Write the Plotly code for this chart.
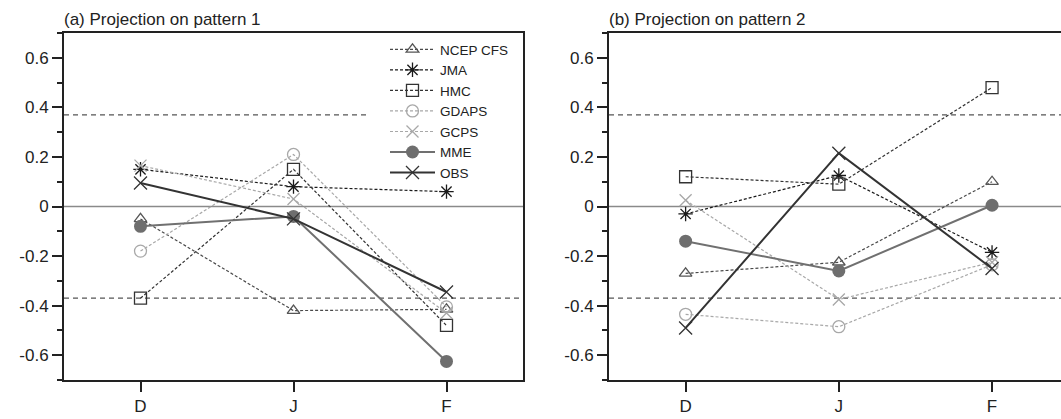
import plotly.graph_objects as go

months = ["D", "J", "F"]
series_names = ["NCEP CFS", "JMA", "HMC", "GDAPS", "GCPS", "MME", "OBS"]

# Panel (a): projection on pattern 1
p1_ncep = [-0.05, -0.42, -0.415]
p1_jma = [0.15, 0.08, 0.06]
p1_hmc = [-0.37, 0.15, -0.48]
p1_gdaps = [-0.18, 0.21, -0.405]
p1_gcps = [0.165, 0.03, -0.43]
p1_mme = [-0.08, -0.04, -0.625]
p1_obs = [0.095, -0.05, -0.345]

# Panel (b): projection on pattern 2
p2_ncep = [-0.27, -0.225, 0.10]
p2_jma = [-0.03, 0.125, -0.185]
p2_hmc = [0.12, 0.09, 0.48]
p2_gdaps = [-0.435, -0.485, -0.235]
p2_gcps = [0.025, -0.375, -0.225]
p2_mme = [-0.14, -0.26, 0.005]
p2_obs = [-0.49, 0.215, -0.25]

sig_level = 0.37
y_ticks = [-0.6, -0.4, -0.2, 0, 0.2, 0.4, 0.6]
y_tick_text = ["-0.6", "-0.4", "-0.2", "0", "0.2", "0.4", "0.6"]

panel_a = [p1_ncep, p1_jma, p1_hmc, p1_gdaps, p1_gcps, p1_mme, p1_obs]
panel_b = [p2_ncep, p2_jma, p2_hmc, p2_gdaps, p2_gcps, p2_mme, p2_obs]

styles = [
    dict(color="#4a4a4a", dash="3px,2px", width=1.2, symbol="triangle-up-open", size=11, mcolor="#555555", fill=None),
    dict(color="#1a1a1a", dash="3px,2px", width=1.2, symbol="asterisk-open", size=12, mcolor="#1a1a1a", fill=None),
    dict(color="#333333", dash="3px,2px", width=1.2, symbol="square-open", size=12, mcolor="#333333", fill=None),
    dict(color="#a8a8a8", dash="3px,2px", width=1.2, symbol="circle-open", size=12, mcolor="#a8a8a8", fill=None),
    dict(color="#a8a8a8", dash="3px,2px", width=1.2, symbol="x-thin-open", size=12, mcolor="#a8a8a8", fill=None),
    dict(color="#707070", dash="solid", width=2, symbol="circle", size=13, mcolor="#6e6e6e", fill="#6e6e6e"),
    dict(color="#333333", dash="solid", width=2, symbol="x-thin-open", size=13, mcolor="#333333", fill=None),
]

W, H = 1061, 419
fig = go.Figure()

for panel_idx, (data, xa, ya) in enumerate([(panel_a, "x", "y"), (panel_b, "x2", "y2")]):
    for name, vals, st in zip(series_names, data, styles):
        marker = dict(symbol=st["symbol"], size=st["size"],
                      line=dict(color=st["mcolor"], width=1.3))
        if st["fill"]:
            marker["color"] = st["fill"]
            marker["line"] = dict(color=st["fill"], width=0)
        else:
            marker["color"] = st["mcolor"]
        fig.add_trace(go.Scatter(
            x=months, y=vals, name=name, mode="lines+markers",
            line=dict(color=st["color"], dash=st["dash"], width=st["width"]),
            marker=marker, xaxis=xa, yaxis=ya,
            showlegend=(panel_idx == 0), cliponaxis=False,
        ))

# panel geometry (pixels)
a_left, a_right = 64, 523
b_left = 609
plot_top, plot_bottom = 33, 380
legend_left = 367

# reference lines
for xr, yr in [("x", "y"), ("x2", "y2")]:
    fig.add_shape(type="line", xref=f"{xr} domain", yref=yr, x0=0, x1=1, y0=0, y1=0,
                  line=dict(color="#8a8a8a", width=1.5), layer="below")
    for s in (sig_level, -sig_level):
        x1 = 1
        if xr == "x" and s > 0:
            x1 = (legend_left - a_left) / (a_right - a_left)
        fig.add_shape(type="line", xref=f"{xr} domain", yref=yr, x0=0, x1=x1, y0=s, y1=s,
                      line=dict(color="#555555", width=1.2, dash="5px,4px"), layer="below")

font_family = "Liberation Sans, Arial, sans-serif"
ydom = [(H - plot_bottom) / H, (H - plot_top) / H]

axis_common_x = dict(
    type="category", categoryorder="array", categoryarray=months,
    showgrid=False, zeroline=False, showline=True, linecolor="#222222", linewidth=2,
    ticks="outside", ticklen=10, tickwidth=2, tickcolor="#222222",
    tickfont=dict(family=font_family, size=17, color="#222222"), automargin=False,
)
axis_common_y = dict(
    range=[-0.7, 0.7], tickvals=y_ticks, ticktext=y_tick_text,
    showgrid=False, zeroline=False, showline=True, linecolor="#222222", linewidth=2,
    ticks="outside", ticklen=10, tickwidth=2, tickcolor="#222222",
    tickfont=dict(family=font_family, size=17, color="#222222"), automargin=False,
    minor=dict(dtick=0.1, tick0=0, ticks="outside", ticklen=5, tickwidth=1.5, tickcolor="#222222", showgrid=False),
    domain=ydom,
)

fig.update_layout(
    width=W, height=H,
    margin=dict(l=0, r=0, t=0, b=0),
    paper_bgcolor="white", plot_bgcolor="white",
    font=dict(family=font_family, color="#222222"),
    xaxis=dict(axis_common_x, domain=[a_left / W, a_right / W], range=[-0.5, 2.5], mirror=True),
    yaxis=dict(axis_common_y, anchor="x", mirror=True),
    xaxis2=dict(axis_common_x, domain=[b_left / W, 1.0], range=[-0.5, 2.45], mirror=True, anchor="y2"),
    yaxis2=dict(axis_common_y, anchor="x2", mirror=False),
    legend=dict(x=(legend_left + 18) / W, xanchor="left", y=(H - 34) / H, yanchor="top",
                bgcolor="rgba(0,0,0,0)", borderwidth=0, itemwidth=45,
                font=dict(family=font_family, size=13.5, color="#222222"),
                traceorder="normal"),
    showlegend=True,
)

fig.add_annotation(text="(a) Projection on pattern 1", xref="paper", yref="paper",
                   x=(a_left - 2) / W, y=(H - plot_top + 2) / H, xanchor="left", yanchor="bottom", showarrow=False,
                   font=dict(family=font_family, size=17, color="#222222"))
fig.add_annotation(text="(b) Projection on pattern 2", xref="paper", yref="paper",
                   x=(b_left - 2) / W, y=(H - plot_top + 2) / H, xanchor="left", yanchor="bottom", showarrow=False,
                   font=dict(family=font_family, size=17, color="#222222"))

fig.write_html("out.html", config={"displayModeBar": False},
               post_script="document.body.style.margin='0';document.body.style.overflow='hidden';")
